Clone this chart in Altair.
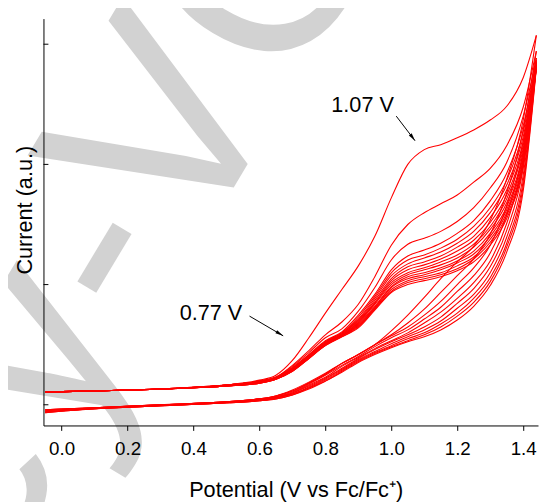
import altair as alt
import pandas as pd

# Potential grid (V vs Fc/Fc+)
E = [-0.05, 0.1, 0.3, 0.5, 0.6, 0.65, 0.7, 0.75, 0.8, 0.85, 0.9, 0.95, 1.0, 1.05,
     1.1, 1.15, 1.2, 1.25, 1.3, 1.35, 1.4, 1.44]

# Forward (anodic) scans, current in a.u.
fwd_c1 = [0.34, 0.35, 0.37, 0.41, 0.46, 0.51, 0.66, 0.89, 1.14, 1.38, 1.62, 1.92, 2.31, 2.65, 2.80, 2.85, 2.92, 3.00, 3.10, 3.24, 3.53, 3.96]
fwd_c2 = [0.34, 0.35, 0.37, 0.41, 0.45, 0.49, 0.61, 0.76, 0.92, 1.05, 1.23, 1.51, 1.83, 2.04, 2.16, 2.25, 2.34, 2.47, 2.61, 2.84, 3.23, 3.80]
fwd_c3 = [0.34, 0.35, 0.37, 0.41, 0.45, 0.49, 0.60, 0.74, 0.89, 0.98, 1.16, 1.40, 1.68, 1.84, 1.90, 1.97, 2.07, 2.21, 2.41, 2.67, 3.14, 3.73]
fwd_c4 = [0.34, 0.35, 0.37, 0.41, 0.45, 0.49, 0.59, 0.72, 0.86, 0.95, 1.12, 1.33, 1.58, 1.72, 1.78, 1.85, 1.95, 2.08, 2.28, 2.56, 3.04, 3.70]
fwd_c5 = [0.34, 0.35, 0.37, 0.41, 0.45, 0.49, 0.58, 0.71, 0.85, 0.94, 1.10, 1.31, 1.55, 1.68, 1.73, 1.80, 1.89, 2.02, 2.21, 2.49, 2.98, 3.69]
fwd_c6 = [0.34, 0.35, 0.37, 0.41, 0.45, 0.49, 0.58, 0.71, 0.85, 0.94, 1.08, 1.29, 1.52, 1.64, 1.70, 1.76, 1.85, 1.97, 2.16, 2.44, 2.93, 3.68]
fwd_c7 = [0.34, 0.35, 0.37, 0.41, 0.44, 0.48, 0.57, 0.70, 0.84, 0.93, 1.07, 1.27, 1.49, 1.61, 1.66, 1.72, 1.81, 1.92, 2.11, 2.39, 2.88, 3.67]
fwd_c8 = [0.34, 0.35, 0.37, 0.41, 0.44, 0.48, 0.57, 0.70, 0.84, 0.93, 1.06, 1.25, 1.47, 1.58, 1.63, 1.69, 1.77, 1.88, 2.06, 2.34, 2.84, 3.67]
fwd_c9 = [0.34, 0.35, 0.37, 0.40, 0.44, 0.48, 0.57, 0.70, 0.83, 0.92, 1.05, 1.24, 1.45, 1.55, 1.60, 1.66, 1.73, 1.84, 2.02, 2.30, 2.81, 3.66]
fwd_c10 = [0.34, 0.35, 0.37, 0.40, 0.44, 0.48, 0.56, 0.69, 0.83, 0.92, 1.04, 1.23, 1.43, 1.53, 1.58, 1.63, 1.70, 1.81, 1.99, 2.26, 2.77, 3.65]
fwd_c11 = [0.34, 0.35, 0.37, 0.40, 0.44, 0.48, 0.56, 0.69, 0.82, 0.91, 1.03, 1.21, 1.41, 1.51, 1.55, 1.60, 1.67, 1.77, 1.95, 2.22, 2.74, 3.65]
fwd_c12 = [0.34, 0.35, 0.37, 0.40, 0.43, 0.47, 0.56, 0.69, 0.82, 0.91, 1.02, 1.20, 1.40, 1.49, 1.53, 1.58, 1.65, 1.74, 1.92, 2.19, 2.71, 3.64]
fwd_c13 = [0.34, 0.35, 0.37, 0.40, 0.43, 0.47, 0.55, 0.68, 0.82, 0.91, 1.01, 1.19, 1.38, 1.47, 1.51, 1.55, 1.62, 1.71, 1.89, 2.16, 2.68, 3.64]
fwd_c14 = [0.34, 0.35, 0.37, 0.40, 0.43, 0.47, 0.55, 0.68, 0.81, 0.90, 1.00, 1.18, 1.36, 1.45, 1.49, 1.53, 1.59, 1.69, 1.86, 2.13, 2.65, 3.63]
fwd_c15 = [0.34, 0.35, 0.37, 0.40, 0.43, 0.47, 0.55, 0.68, 0.81, 0.90, 0.99, 1.17, 1.35, 1.43, 1.47, 1.51, 1.57, 1.66, 1.83, 2.10, 2.63, 3.63]

# Reverse (cathodic) scans
rev_c1 = [0.16, 0.18, 0.21, 0.24, 0.27, 0.30, 0.36, 0.44, 0.53, 0.63, 0.72, 0.82, 0.96, 1.12, 1.30, 1.49, 1.66, 1.82, 2.08, 2.50, 3.10, 3.96]
rev_c2 = [0.16, 0.18, 0.21, 0.24, 0.27, 0.30, 0.35, 0.43, 0.52, 0.63, 0.72, 0.82, 0.92, 1.04, 1.18, 1.35, 1.52, 1.69, 1.94, 2.36, 3.00, 3.80]
rev_c3 = [0.16, 0.18, 0.21, 0.24, 0.27, 0.30, 0.35, 0.43, 0.52, 0.63, 0.72, 0.82, 0.91, 1.00, 1.12, 1.26, 1.43, 1.60, 1.83, 2.23, 2.88, 3.73]
rev_c4 = [0.15, 0.18, 0.21, 0.24, 0.27, 0.29, 0.34, 0.42, 0.51, 0.61, 0.70, 0.80, 0.89, 0.97, 1.08, 1.20, 1.36, 1.52, 1.75, 2.14, 2.78, 3.71]
rev_c5 = [0.15, 0.18, 0.21, 0.24, 0.26, 0.29, 0.33, 0.41, 0.49, 0.60, 0.69, 0.78, 0.86, 0.94, 1.04, 1.15, 1.29, 1.45, 1.67, 2.05, 2.69, 3.69]
rev_c6 = [0.14, 0.17, 0.20, 0.23, 0.26, 0.28, 0.33, 0.40, 0.48, 0.58, 0.68, 0.77, 0.85, 0.92, 1.00, 1.10, 1.24, 1.39, 1.61, 1.98, 2.61, 3.68]
rev_c7 = [0.14, 0.17, 0.20, 0.23, 0.26, 0.28, 0.32, 0.39, 0.47, 0.57, 0.67, 0.75, 0.83, 0.90, 0.97, 1.06, 1.19, 1.33, 1.55, 1.91, 2.54, 3.66]
rev_c8 = [0.14, 0.17, 0.20, 0.23, 0.25, 0.28, 0.32, 0.38, 0.46, 0.56, 0.66, 0.74, 0.81, 0.88, 0.94, 1.03, 1.14, 1.29, 1.50, 1.85, 2.48, 3.65]
rev_c9 = [0.13, 0.17, 0.20, 0.23, 0.25, 0.27, 0.31, 0.38, 0.45, 0.55, 0.65, 0.73, 0.80, 0.86, 0.92, 1.00, 1.11, 1.25, 1.46, 1.81, 2.43, 3.64]
rev_c10 = [0.13, 0.17, 0.20, 0.23, 0.25, 0.27, 0.31, 0.37, 0.45, 0.54, 0.64, 0.72, 0.79, 0.85, 0.90, 0.97, 1.07, 1.21, 1.42, 1.76, 2.38, 3.63]

forward = [fwd_c1, fwd_c2, fwd_c3, fwd_c4, fwd_c5, fwd_c6, fwd_c7, fwd_c8,
           fwd_c9, fwd_c10, fwd_c11, fwd_c12, fwd_c13, fwd_c14, fwd_c15]
reverse = [rev_c1, rev_c2, rev_c3, rev_c4, rev_c5, rev_c6, rev_c7, rev_c8,
           rev_c9, rev_c10]

# Axis ticks
x_tick_values = [0.0, 0.1, 0.2, 0.3, 0.4, 0.5, 0.6, 0.7, 0.8, 0.9, 1.0, 1.1, 1.2, 1.3, 1.4]
y_tick_values = [0.21, 1.43, 2.65, 3.87]

# Annotations
ann_text = ["1.07 V", "0.77 V"]
ann_E = [0.818, 0.358]
ann_I = [3.18, 1.07]
arrow_E0 = [1.015, 0.570]
arrow_I0 = [3.14, 1.11]
arrow_E1 = [1.072, 0.672]
arrow_I1 = [2.89, 0.91]
arrow_angle = [143, 120]

# Watermark
wm_left = "Wiley-"
wm_right = "VCH"
wm_E = 0.397
wm_I = 1.72

FONT = "Liberation Sans"
RED = "#ff0000"

rows = []
for k, s in enumerate(forward):
    for e, i in zip(E, s):
        rows.append({"E": e, "I": i, "scan": f"f{k+1}"})
for k, s in enumerate(reverse):
    for e, i in zip(E, s):
        rows.append({"E": e, "I": i, "scan": f"r{k+1}"})
df = pd.DataFrame(rows)

xscale = alt.Scale(domain=[-0.055, 1.445], nice=False, zero=False)
yscale = alt.Scale(domain=[0, 4.13], nice=False, zero=False)

xaxis = alt.Axis(
    values=x_tick_values,
    labelExpr="round(datum.value*10) % 2 == 0 ? format(datum.value, '.1f') : ''",
    labelFont=FONT, labelFontSize=19, labelColor="black", labelPadding=9,
    labelOverlap=False, labelFlush=False,
    tickColor="black", tickSize=5, tickWidth=1,
    domainColor="black", domainWidth=1, grid=False,
    title="Potential (V vs Fc/Fc\u207a)", titleFont=FONT, titleFontSize=22,
    titleFontWeight="normal", titleColor="black",
    titleX=256, titleY=72, titleBaseline="alphabetic", zindex=1,
)
yaxis = alt.Axis(
    labels=False, ticks=False, grid=False,
    domainColor="black", domainWidth=1,
    title="Current (a.u.)", titleFont=FONT, titleFontSize=22,
    titleFontWeight="normal", titleColor="black",
    titleAngle=270, titleX=-19, titleY=194, titleBaseline="middle",
    titleAlign="center", zindex=1,
)

wm_df = pd.DataFrame({"E": [wm_E], "I": [wm_I], "left": [wm_left], "right": [wm_right]})
wm1 = alt.Chart(wm_df).mark_text(
    font=FONT, fontSize=285, color="#d2d2d2", align="right", baseline="alphabetic", angle=301
).encode(x=alt.X("E:Q", scale=xscale, axis=xaxis), y=alt.Y("I:Q", scale=yscale, axis=yaxis), text="left:N")
wm2 = alt.Chart(wm_df).mark_text(
    font=FONT, fontSize=285, color="#d2d2d2", align="left", baseline="alphabetic", angle=301
).encode(x="E:Q", y="I:Q", text="right:N")

lines = alt.Chart(df).mark_line(
    color=RED, strokeWidth=1.1, interpolate="monotone"
).encode(x="E:Q", y="I:Q", detail="scan:N", order="E:Q")

yt = alt.Chart(pd.DataFrame({"I": y_tick_values})).mark_rule(
    color="black", strokeWidth=1
).encode(x=alt.value(0), x2=alt.value(5), y="I:Q")

ann_df = pd.DataFrame({"E": ann_E, "I": ann_I, "t": ann_text})
ann = alt.Chart(ann_df).mark_text(
    font=FONT, fontSize=22, color="black", align="left", baseline="alphabetic"
).encode(x="E:Q", y="I:Q", text="t:N")

arr_df = pd.DataFrame({"E": arrow_E0, "I": arrow_I0, "E2": arrow_E1, "I2": arrow_I1, "ang": arrow_angle})
arr = alt.Chart(arr_df).mark_rule(color="black", strokeWidth=1).encode(
    x="E:Q", y="I:Q", x2="E2:Q", y2="I2:Q")
heads = alt.Chart(arr_df).mark_point(
    shape="M0,0L-0.4,1.8L0.4,1.8Z", filled=True, color="black", size=80, opacity=1, strokeWidth=0
).encode(x="E2:Q", y="I2:Q", angle=alt.Angle("ang:Q", scale=None))

chart = alt.layer(wm1, wm2, lines, yt, arr, heads, ann).properties(
    width=502, height=413,
    padding={"left": 36, "top": 7, "right": 1, "bottom": 78},
    autosize="none",
    background="white",
).configure_view(strokeWidth=0)

chart.save("out.html", embed_options={"renderer": "svg", "actions": False})
